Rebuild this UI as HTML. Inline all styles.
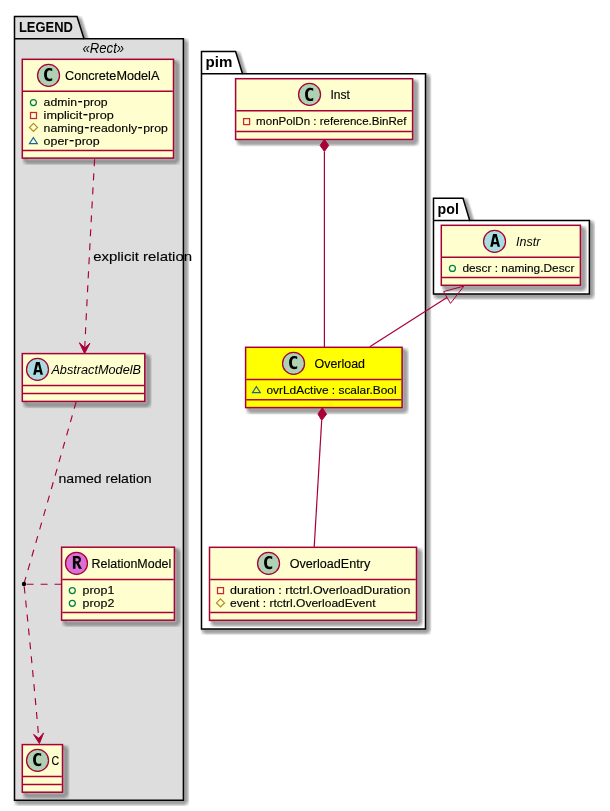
<!DOCTYPE html>
<html><head><meta charset="utf-8">
<style>
html,body{margin:0;padding:0;background:#fff;}
svg{display:block;}
text{font-family:"Liberation Sans",sans-serif;fill:#000;}
.b{font-weight:bold;font-size:15px;}
.n{font-size:12px;stroke:#000;stroke-width:0.13;}
.i{font-size:12px;font-style:italic;}
.a{font-size:11px;stroke:#000;stroke-width:0.13;}
.l{font-size:13px;stroke:#000;stroke-width:0.13;}
.box{fill:#FEFECE;stroke:#A80036;stroke-width:1.5;}
.ybox{fill:#FFFF00;stroke:#A80036;stroke-width:1.5;}
.ln{stroke:#A80036;stroke-width:1.5;fill:none;}
.rl{stroke:#A80036;stroke-width:1.2;fill:none;}
.dl{stroke:#A80036;stroke-width:1.15;fill:none;stroke-dasharray:7,7;}
.pk{stroke:#000;stroke-width:1.5;}
.ch{font-family:"Liberation Mono",monospace;font-weight:bold;font-size:17px;}
</style></head>
<body>
<svg width="610" height="811" viewBox="0 0 610 811">
<defs>
<filter id="f1" x="-20%" y="-20%" width="150%" height="150%" color-interpolation-filters="sRGB">
<feOffset in="SourceAlpha" dx="4.2" dy="4.2" result="o"/>
<feConvolveMatrix in="o" order="6" kernelMatrix="1 1 1 1 1 1 1 1 1 1 1 1 1 1 1 1 1 1 1 1 1 1 1 1 1 1 1 1 1 1 1 1 1 1 1 1" divisor="36" targetX="2" targetY="2" edgeMode="none" preserveAlpha="false" result="b"/>
<feColorMatrix in="b" type="matrix" values="0 0 0 .667 0  0 0 0 .667 0  0 0 0 .667 0  0 0 0 1 0" result="c"/>
<feMerge><feMergeNode in="c"/><feMergeNode in="SourceGraphic"/></feMerge>
</filter>
<filter id="f2" x="-5%" y="-5%" width="115%" height="115%" color-interpolation-filters="sRGB">
<feOffset in="SourceAlpha" dx="3.0" dy="3.0" result="o"/>
<feConvolveMatrix in="o" order="6" kernelMatrix="1 1 1 1 1 1 1 1 1 1 1 1 1 1 1 1 1 1 1 1 1 1 1 1 1 1 1 1 1 1 1 1 1 1 1 1" divisor="36" targetX="2" targetY="2" edgeMode="none" preserveAlpha="false" result="b"/>
<feColorMatrix in="b" type="matrix" values="0 0 0 .667 0  0 0 0 .667 0  0 0 0 .667 0  0 0 0 1 0" result="c"/>
<feMerge><feMergeNode in="c"/><feMergeNode in="SourceGraphic"/></feMerge>
</filter>
<path id="gC" transform="translate(-0.15,0.275) scale(1,1.023)" d="M3.8,-7.0 C2.8,-7.4 1.9,-7.6 0.9,-7.6 C-2.4,-7.6 -4.3,-5.2 -4.3,-1.1 C-4.3,3.0 -2.4,5.4 0.9,5.4 C1.9,5.4 2.8,5.2 3.8,4.8 L3.8,2.2 C3.0,2.8 2.2,3.1 1.3,3.1 C-0.5,3.1 -1.5,1.7 -1.5,-1.1 C-1.5,-3.9 -0.5,-5.3 1.3,-5.3 C2.2,-5.3 3.0,-5.0 3.8,-4.4 Z" fill="#000"/>
<path id="gA" fill-rule="evenodd" d="M-4.35,5.4 L-1.5,-7.5 L2.2,-7.5 L5.45,5.4 L3.0,5.4 L2.4,2.9 L-1.25,2.9 L-1.8,5.4 Z M-0.95,0.6 L2.0,0.6 L0.5,-4.9 Z" fill="#000"/>
<path id="gR" fill-rule="evenodd" d="M-3.6,-7.3 L0.8,-7.3 C3.2,-7.3 4.4,-5.9 4.4,-3.7 C4.4,-2 3.6,-0.7 2.2,-0.2 L5.5,5.5 L2.6,5.5 L-0.2,0.1 L-1.0,0.1 L-1.0,5.5 L-3.6,5.5 Z M-1.0,-5.1 L-1.0,-2.1 L0.5,-2.1 C1.6,-2.1 2.2,-2.6 2.2,-3.6 C2.2,-4.6 1.6,-5.1 0.5,-5.1 Z" fill="#000"/>
</defs>
<rect width="610" height="811" fill="#fff"/>
<g style="opacity:0.999">

<!-- LEGEND package -->
<polygon class="pk" fill="#DDDDDD" filter="url(#f2)" points="14.5,16.5 77,16.5 84,38.8 183.4,38.8 183.4,800.25 14.5,800.25"/>
<line class="pk" x1="14.5" y1="38.8" x2="84" y2="38.8"/>
<text class="b" x="18.9" y="31.6" textLength="54" lengthAdjust="spacingAndGlyphs">LEGEND</text>
<text class="i" style="font-size:14px" x="82.5" y="53.3" textLength="41.6" lengthAdjust="spacingAndGlyphs">«Rect»</text>

<!-- pim package -->
<polygon class="pk" fill="#FFFFFF" filter="url(#f2)" points="201.5,51.5 235.6,51.5 242.5,73.7 425.5,73.7 425.5,629.05 201.5,629.05"/>
<line class="pk" x1="201.5" y1="73.7" x2="242.5" y2="73.7"/>
<text class="b" x="205.6" y="67.2" textLength="26.8" lengthAdjust="spacingAndGlyphs">pim</text>

<!-- pol package -->
<polygon class="pk" fill="#FFFFFF" filter="url(#f2)" points="433.5,198.3 463,198.3 469.7,220.4 589.4,220.4 589.4,294.1 433.5,294.1"/>
<line class="pk" x1="433.5" y1="220.4" x2="469.7" y2="220.4"/>
<text class="b" x="437.6" y="214.4" textLength="21.3" lengthAdjust="spacingAndGlyphs">pol</text>

<!-- ConcreteModelA -->
<rect class="box" filter="url(#f1)" x="22.3" y="59.3" width="151.2" height="98.8"/>
<circle cx="48.55" cy="75.4" r="11" fill="#ADD1B2" stroke="#A80036" stroke-width="1.25"/>
<use href="#gC" transform="translate(48.55,75.4)"/>
<text class="n" x="65" y="80.3" textLength="94.4" lengthAdjust="spacingAndGlyphs">ConcreteModelA</text>
<line class="ln" x1="23" y1="91.2" x2="172.8" y2="91.2"/>
<circle cx="33.4" cy="102.5" r="3" fill="none" stroke="#038048" stroke-width="1.25"/>
<text class="a" x="43.6" y="106" textLength="64.1" lengthAdjust="spacingAndGlyphs">admin<tspan font-size="14" dy="0.2" dx="0.4">-</tspan><tspan dy="-0.2" dx="0.5">prop</tspan></text>
<rect x="30.5" y="112.5" width="6" height="6" fill="none" stroke="#C82930" stroke-width="1.25"/>
<text class="a" x="43.6" y="118.8" textLength="70.3" lengthAdjust="spacingAndGlyphs">implicit<tspan font-size="14" dy="0.2" dx="0.4">-</tspan><tspan dy="-0.2" dx="0.5">prop</tspan></text>
<polygon points="33.5,123.4 37.5,127.4 33.5,131.4 29.5,127.4" fill="none" stroke="#B38D22" stroke-width="1.25"/>
<text class="a" x="43.6" y="131.6" textLength="124.2" lengthAdjust="spacingAndGlyphs">naming<tspan font-size="14" dy="0.2" dx="0.4">-</tspan><tspan dy="-0.2" dx="0.5">readonly</tspan><tspan font-size="14" dy="0.2" dx="0.4">-</tspan><tspan dy="-0.2" dx="0.5">prop</tspan></text>
<polygon points="33.4,137.6 37.4,143.6 29.4,143.6" fill="none" stroke="#1963A0" stroke-width="1.1"/>
<text class="a" x="43.6" y="144.9" textLength="56" lengthAdjust="spacingAndGlyphs">oper<tspan font-size="14" dy="0.2" dx="0.4">-</tspan><tspan dy="-0.2" dx="0.5">prop</tspan></text>
<line class="ln" x1="23" y1="150.5" x2="172.8" y2="150.5"/>

<!-- AbstractModelB -->
<rect class="box" filter="url(#f1)" x="22.3" y="353.6" width="122.5" height="47.8"/>
<circle cx="37.5" cy="369.4" r="11" fill="#A9DCDF" stroke="#A80036" stroke-width="1.25"/>
<use href="#gA" transform="translate(37.5,369.4)"/>
<text class="i" x="51.4" y="374.3" textLength="89.6" lengthAdjust="spacingAndGlyphs">AbstractModelB</text>
<line class="ln" x1="23" y1="385.6" x2="144" y2="385.6"/>
<line class="ln" x1="23" y1="393.6" x2="144" y2="393.6"/>

<!-- RelationModel -->
<rect class="box" filter="url(#f1)" x="61.6" y="547.2" width="112.8" height="73"/>
<circle cx="76.5" cy="563.3" r="11" fill="#DA70D6" stroke="#A80036" stroke-width="1.25"/>
<use href="#gR" transform="translate(76.5,563.3)"/>
<text class="n" x="91.6" y="567.9" textLength="79.7" lengthAdjust="spacingAndGlyphs">RelationModel</text>
<line class="ln" x1="62.3" y1="579.5" x2="173.7" y2="579.5"/>
<circle cx="72.3" cy="590.6" r="3" fill="none" stroke="#038048" stroke-width="1.25"/>
<text class="a" x="82.6" y="593.9" textLength="31.7" lengthAdjust="spacingAndGlyphs">prop1</text>
<circle cx="72.3" cy="603.3" r="3" fill="none" stroke="#038048" stroke-width="1.25"/>
<text class="a" x="82.6" y="606.5" textLength="31.7" lengthAdjust="spacingAndGlyphs">prop2</text>
<line class="ln" x1="62.3" y1="612.5" x2="173.7" y2="612.5"/>

<!-- C -->
<rect class="box" filter="url(#f1)" x="22.3" y="744.6" width="40.2" height="47.6"/>
<circle cx="37.55" cy="760.4" r="11" fill="#ADD1B2" stroke="#A80036" stroke-width="1.25"/>
<use href="#gC" transform="translate(37.55,760.4)"/>
<text class="n" x="51.4" y="764.5" textLength="7.7" lengthAdjust="spacingAndGlyphs">C</text>
<line class="ln" x1="23" y1="776.6" x2="61.8" y2="776.6"/>
<line class="ln" x1="23" y1="784.4" x2="61.8" y2="784.4"/>

<!-- Inst -->
<rect class="box" filter="url(#f1)" x="235.6" y="78.7" width="177" height="60.75"/>
<circle cx="309.55" cy="94.4" r="11" fill="#ADD1B2" stroke="#A80036" stroke-width="1.25"/>
<use href="#gC" transform="translate(309.55,95.25)"/>
<text class="n" x="330.4" y="99.2" textLength="19.4" lengthAdjust="spacingAndGlyphs">Inst</text>
<line class="ln" x1="236.3" y1="110.7" x2="411.9" y2="110.7"/>
<rect x="243.6" y="118.6" width="6" height="6" fill="none" stroke="#C82930" stroke-width="1.25"/>
<text class="a" x="256.1" y="124.8" textLength="150.4" lengthAdjust="spacingAndGlyphs">monPolDn : reference.BinRef</text>
<line class="ln" x1="236.3" y1="131.5" x2="411.9" y2="131.5"/>

<!-- Overload -->
<rect class="ybox" filter="url(#f1)" x="245.6" y="347.3" width="156.5" height="60.3"/>
<circle cx="293.55" cy="363.4" r="11" fill="#ADD1B2" stroke="#A80036" stroke-width="1.25"/>
<use href="#gC" transform="translate(293.55,363.4)"/>
<text class="n" x="314.6" y="367.8" textLength="50.4" lengthAdjust="spacingAndGlyphs">Overload</text>
<line class="ln" x1="246.3" y1="379.4" x2="401.4" y2="379.4"/>
<polygon points="256.4,386.6 260.4,392.6 252.4,392.6" fill="none" stroke="#1963A0" stroke-width="1.1"/>
<text class="a" x="266.5" y="393.9" textLength="130.1" lengthAdjust="spacingAndGlyphs">ovrLdActive : scalar.Bool</text>
<line class="ln" x1="246.3" y1="399.7" x2="401.4" y2="399.7"/>

<!-- OverloadEntry -->
<rect class="box" filter="url(#f1)" x="209.5" y="547.3" width="207" height="73"/>
<circle cx="268.55" cy="563.4" r="11" fill="#ADD1B2" stroke="#A80036" stroke-width="1.25"/>
<use href="#gC" transform="translate(268.55,563.4)"/>
<text class="n" x="289.7" y="567.8" textLength="80.6" lengthAdjust="spacingAndGlyphs">OverloadEntry</text>
<line class="ln" x1="210.2" y1="579.4" x2="415.8" y2="579.4"/>
<rect x="217.5" y="587.6" width="6" height="6" fill="none" stroke="#C82930" stroke-width="1.25"/>
<text class="a" x="230" y="594" textLength="180.3" lengthAdjust="spacingAndGlyphs">duration : rtctrl.OverloadDuration</text>
<polygon points="220.5,598.9 224.5,602.9 220.5,606.9 216.5,602.9" fill="none" stroke="#B38D22" stroke-width="1.25"/>
<text class="a" x="230" y="606.9" textLength="145.5" lengthAdjust="spacingAndGlyphs">event : rtctrl.OverloadEvent</text>
<line class="ln" x1="210.2" y1="612.4" x2="415.8" y2="612.4"/>

<!-- Instr -->
<rect class="box" filter="url(#f1)" x="441.3" y="225.3" width="139.1" height="60"/>
<circle cx="494.55" cy="241.4" r="11" fill="#A9DCDF" stroke="#A80036" stroke-width="1.25"/>
<use href="#gA" transform="translate(494.55,241.4)"/>
<text class="i" x="516" y="245.8" textLength="24.3" lengthAdjust="spacingAndGlyphs">Instr</text>
<line class="ln" x1="442" y1="257.3" x2="579.7" y2="257.3"/>
<circle cx="452.4" cy="268.4" r="3" fill="none" stroke="#038048" stroke-width="1.25"/>
<text class="a" x="462.4" y="271.7" textLength="112.1" lengthAdjust="spacingAndGlyphs">descr : naming.Descr</text>
<line class="ln" x1="442" y1="277.5" x2="579.7" y2="277.5"/>

<!-- relations -->
<path class="dl" d="M94.6,159.3 Q89.2,255 84.7,348.3"/>
<polygon points="84.6,353.6 89.9,343.3 84.9,347.8 79.4,342.8" fill="#A80036" stroke="#A80036" stroke-width="1"/>
<text class="l" x="93.2" y="260.7" textLength="98.9" lengthAdjust="spacingAndGlyphs">explicit relation</text>

<path class="dl" d="M76.1,402 Q50.6,492 23.9,584"/>
<text class="l" x="58.5" y="482.9" textLength="93.1" lengthAdjust="spacingAndGlyphs">named relation</text>
<path class="dl" d="M26.6,584.25 L61.5,584.25"/>
<path class="dl" d="M24.2,586.5 Q32.3,663.7 38.8,738.5"/>
<circle cx="24" cy="584" r="2.2" fill="#000"/>
<polygon points="39.4,743.6 43.6,732.9 38.8,738.3 33.5,734.4" fill="#A80036" stroke="#A80036" stroke-width="1"/>

<path class="rl" d="M324.4,151.4 L324.4,347.3"/>
<polygon points="324.4,139.5 328.7,145.4 324.4,151.4 320.1,145.4" fill="#A80036" stroke="#A80036" stroke-width="1"/>

<path class="rl" d="M321.7,420.3 L314.2,546.9"/>
<polygon points="322.3,407.9 326.6,414.2 321.7,420.3 317.9,414" fill="#A80036" stroke="#A80036" stroke-width="1"/>

<path class="rl" d="M369.8,346.7 L447,297.5"/>
<polygon points="463.9,286.1 443.6,291.6 450.5,303.4" fill="none" stroke="#A80036" stroke-width="1"/>
</g>
</svg>
</body></html>
